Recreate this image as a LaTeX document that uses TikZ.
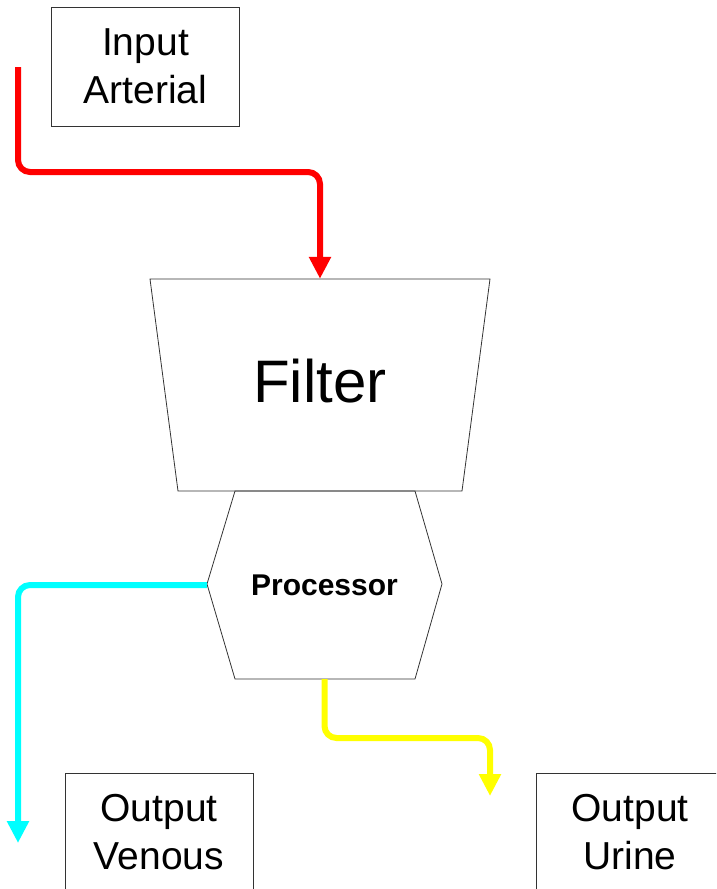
\documentclass[tikz,border=0pt]{standalone}
\usepackage{fontspec}
\setmainfont{Liberation Sans}
\usepackage{tikz}
\usetikzlibrary{arrows.meta}

\definecolor{arterial}{RGB}{255,0,0}
\definecolor{venous}{RGB}{0,255,255}
\definecolor{urine}{RGB}{255,255,0}

\tikzset{
  box/.style={draw=black!80, line width=0.8pt, minimum width=188pt, minimum height=119pt,
    align=center, font=\fontsize{39pt}{48pt}\selectfont},
  flow/.style={line width=6pt, rounded corners=12pt, -{Triangle[length=22pt,width=21pt]}}
}

\begin{document}
\begin{tikzpicture}[x=1pt, y=-1pt]
    \clip (0,0) rectangle (716,889);
    \node[box] (arterial) at (145.5,66.5) {Input\\Arterial};
    \node[box] (venous) at (159,832.5) {Output\\Venous};
    \node[box] (urine) at (630,832.5) {Output\\Urine};
    % filter and processor outlines
    \draw[black!80, line width=0.8pt] (150,279) -- (490,279) -- (462,491) -- (178,491) -- cycle;
    \draw[black!80, line width=0.8pt] (235,491) -- (415,491) -- (442,584) -- (415,679) -- (235,679) -- (207,584) -- cycle;
    \node[inner sep=0pt, minimum width=340pt, minimum height=212pt] (filter) at (320,385) {};
    \node[font=\fontsize{60pt}{72pt}\selectfont] (filtertext) at (320,381) {Filter};
    \node[inner sep=0pt, minimum width=235pt, minimum height=188pt, font=\fontsize{30pt}{36pt}\selectfont\bfseries] (proc) at (324.5,585) {Processor};
    \coordinate (start) at (18,67);
    \coordinate (venend) at (18,843);
    \coordinate (urend) at (490,796);
    \draw[flow, arterial] (start) |- (320,172) -- (filter.north);
    \draw[flow, venous] (proc.west) -| (venend);
    \draw[flow, urine] (proc.south) |- (490,738) -- (urend);
\end{tikzpicture}
\end{document}
